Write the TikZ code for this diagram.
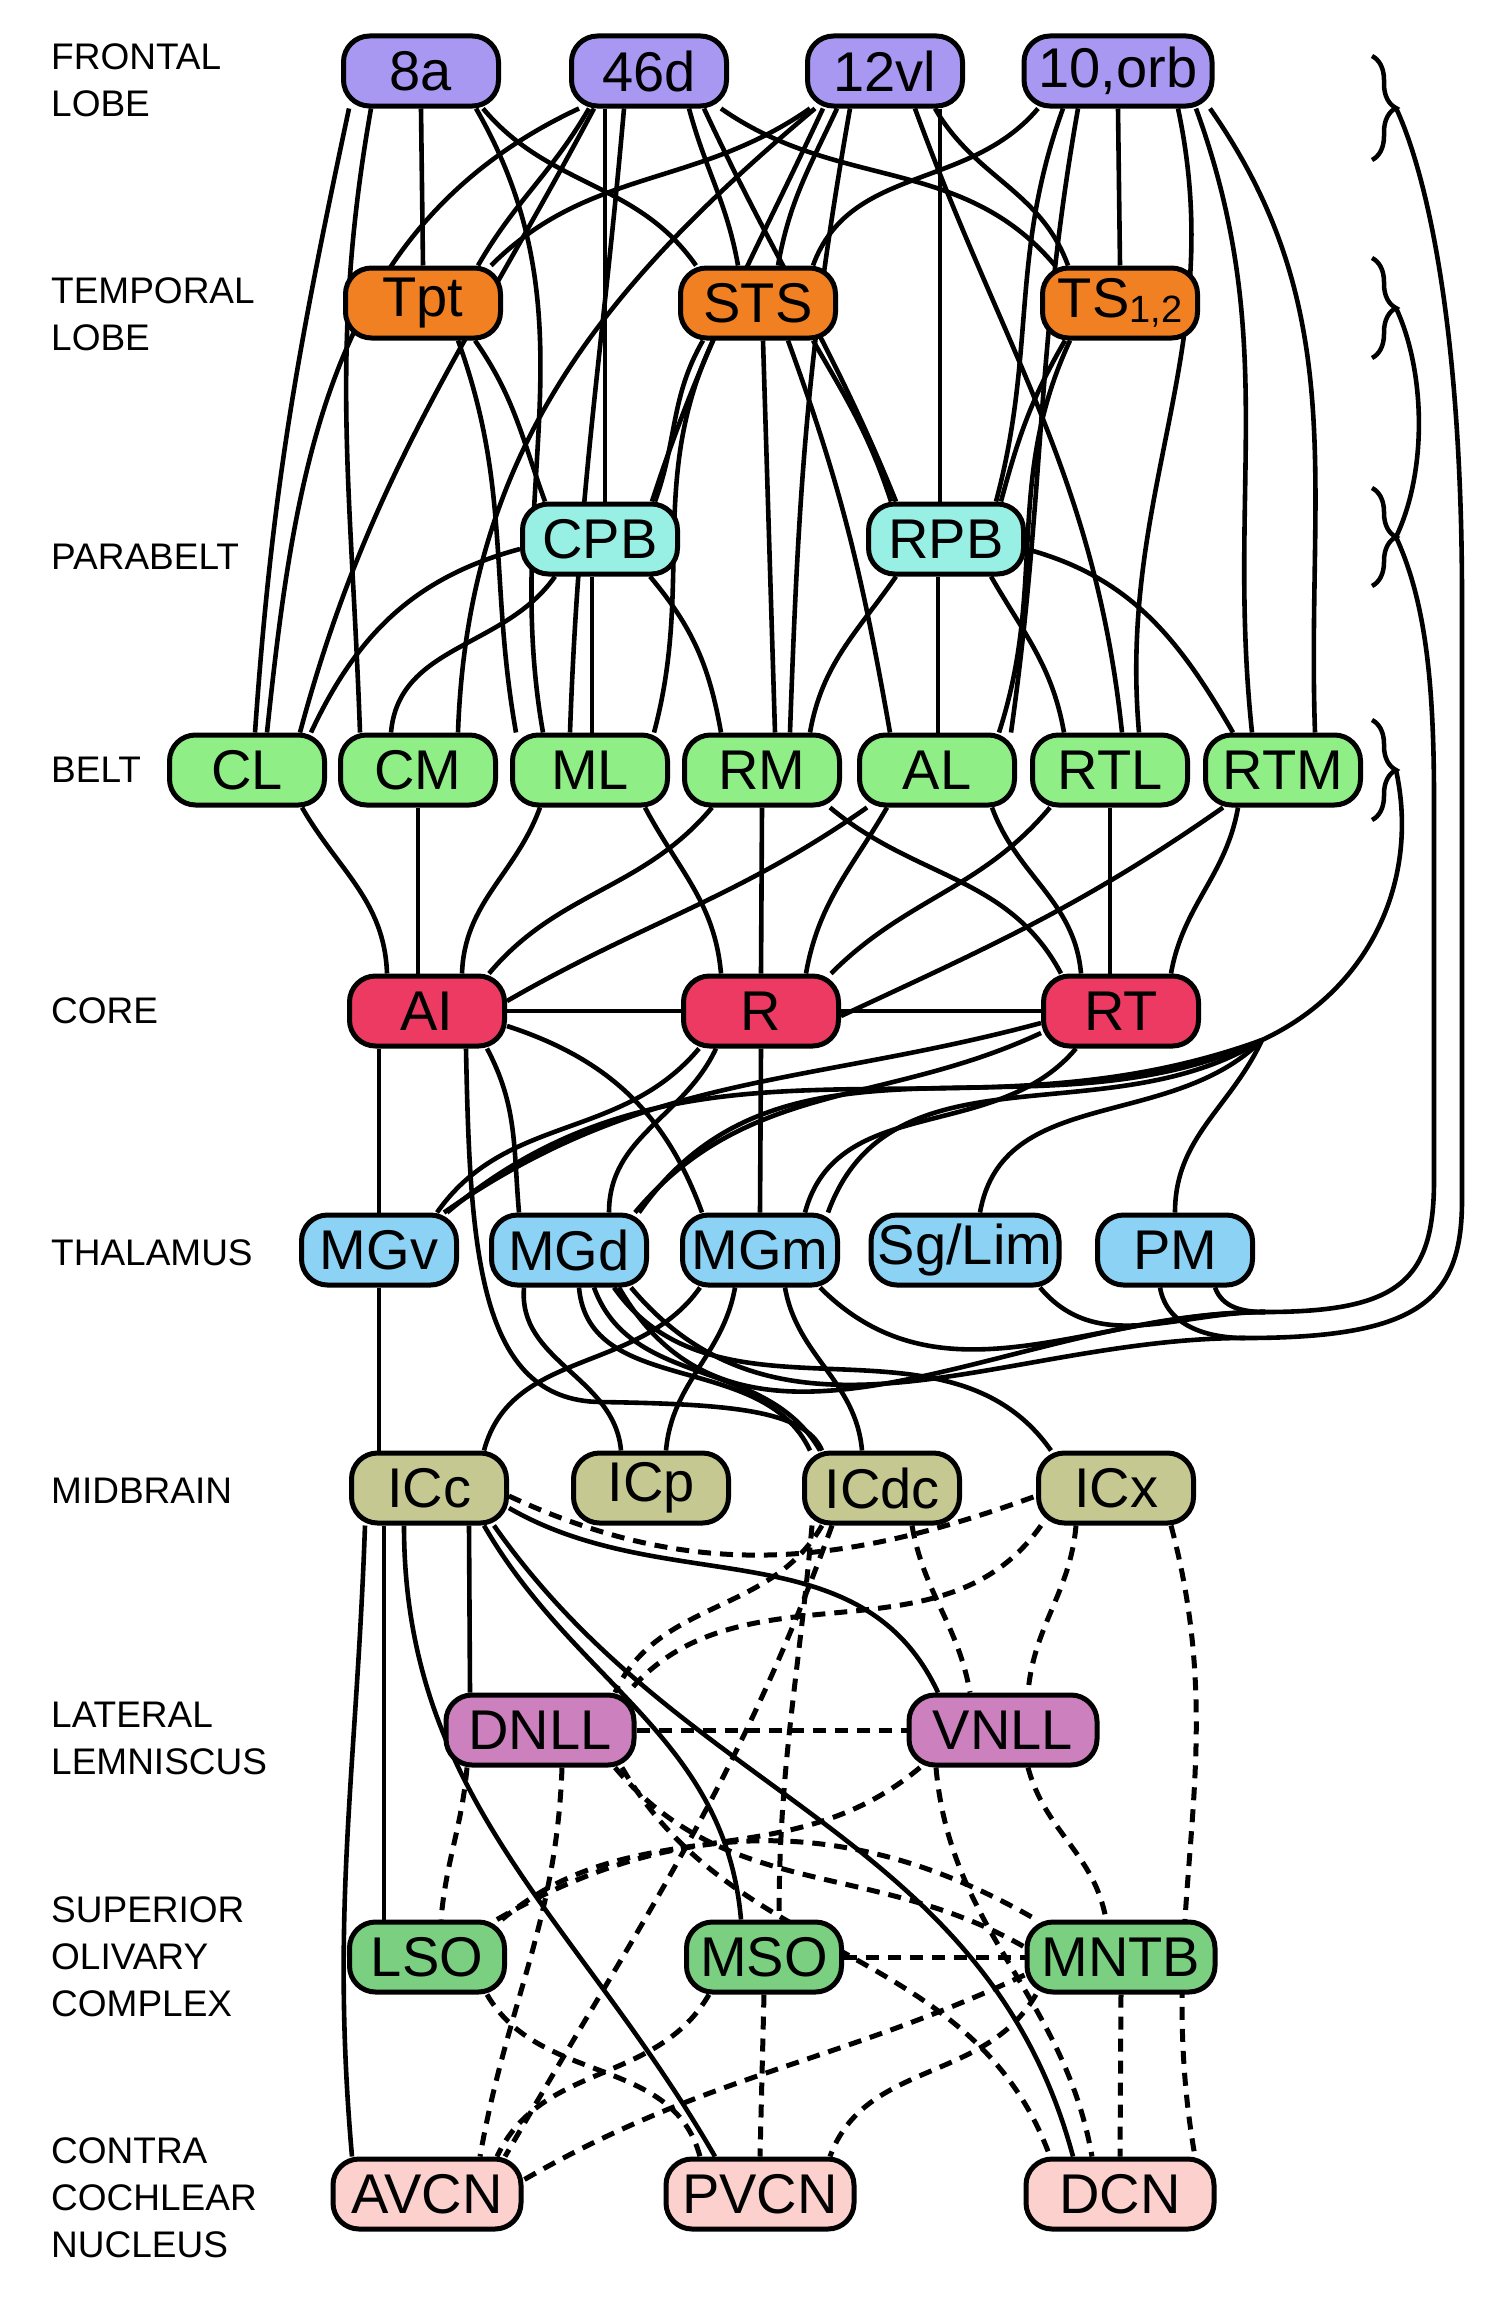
\documentclass[tikz,border=0pt]{standalone}
\usepackage{fontspec}
\setmainfont{Liberation Sans}
\usetikzlibrary{calc,decorations.pathreplacing}
\pgfdeclarelayer{bg}
\pgfsetlayers{bg,main}
\definecolor{cFr}{RGB}{168,152,242}
\definecolor{cTe}{RGB}{240,128,34}
\definecolor{cPb}{RGB}{152,240,228}
\definecolor{cBe}{RGB}{144,238,134}
\definecolor{cCo}{RGB}{236,58,98}
\definecolor{cTh}{RGB}{140,210,244}
\definecolor{cMi}{RGB}{198,200,146}
\definecolor{cLL}{RGB}{204,128,190}
\definecolor{cSO}{RGB}{122,208,128}
\definecolor{cCN}{RGB}{252,208,204}
\tikzset{
  box/.style={draw=black, line width=5pt, rounded corners=26pt, minimum width=155pt,
    minimum height=70pt, inner sep=0pt, font=\fontsize{56}{56}\selectfont},
  wide/.style={box, minimum width=188pt},
  ln/.style={line width=4.6pt},
  dl/.style={line width=5pt, dash pattern=on 13pt off 9pt},
  lab/.style={anchor=west, align=left, inner sep=0pt, font=\fontsize{37}{47}\selectfont},
  brc/.style={decorate, decoration={brace, amplitude=24pt}, line width=4.5pt},
}
\newcommand\lk[6][]{\draw[ln,#1] ([xshift=#3pt]#2.south) to[#6] ([xshift=#5pt]#4.north);}
\begin{document}
\begin{tikzpicture}[x=1pt,y=1pt]
\useasboundingbox (0,0) rectangle (1498,-2299);
% ---------- nodes ----------
\node[box,fill=cFr] (fA) at (421,-71) {8a};
\node[box,fill=cFr] (fB) at (649,-71) {46d};
\node[box,fill=cFr] (fC) at (885,-71) {12vl};
\node[wide,fill=cFr] (fD) at (1118,-71) {10,orb};
\node[box,fill=cTe] (tA) at (423,-303) {Tpt};
\node[box,fill=cTe] (tB) at (758,-303) {STS};
\node[box,fill=cTe] (tC) at (1120,-303) {TS{\fontsize{38}{38}\selectfont\raisebox{-5pt}{1,2}}};
\node[box,fill=cPb] (CPB) at (600,-539) {CPB};
\node[box,fill=cPb] (RPB) at (946,-539) {RPB};
\node[box,fill=cBe] (CL) at (247,-770) {CL};
\node[box,fill=cBe] (CM) at (418,-770) {CM};
\node[box,fill=cBe] (ML) at (590,-770) {ML};
\node[box,fill=cBe] (RM) at (762,-770) {RM};
\node[box,fill=cBe] (AL) at (937,-770) {AL};
\node[box,fill=cBe] (RTL) at (1110,-770) {RTL};
\node[box,fill=cBe] (RTM) at (1283,-770) {RTM};
\node[box,fill=cCo] (AI) at (427,-1011) {AI};
\node[box,fill=cCo] (R) at (761,-1011) {R};
\node[box,fill=cCo] (RT) at (1121,-1011) {RT};
\node[box,fill=cTh] (MGv) at (379,-1250) {MGv};
\node[box,fill=cTh] (MGd) at (569,-1250) {MGd};
\node[box,fill=cTh] (MGm) at (760,-1250) {MGm};
\node[wide,fill=cTh] (Sg) at (965,-1250) {Sg/Lim};
\node[box,fill=cTh] (PM) at (1175,-1250) {PM};
\node[box,fill=cMi] (ICc) at (429,-1488) {ICc};
\node[box,fill=cMi] (ICp) at (651,-1488) {ICp};
\node[box,fill=cMi] (ICdc) at (882,-1488) {ICdc};
\node[box,fill=cMi] (ICx) at (1116,-1488) {ICx};
\node[wide,fill=cLL] (DNLL) at (540,-1730) {DNLL};
\node[wide,fill=cLL] (VNLL) at (1003,-1730) {VNLL};
\node[box,fill=cSO] (LSO) at (427,-1957) {LSO};
\node[box,fill=cSO] (MSO) at (764,-1957) {MSO};
\node[wide,fill=cSO] (MNTB) at (1121,-1957) {MNTB};
\node[wide,fill=cCN] (AVCN) at (427,-2194) {AVCN};
\node[wide,fill=cCN] (PVCN) at (760,-2194) {PVCN};
\node[wide,fill=cCN] (DCN) at (1120,-2194) {DCN};
% ---------- level labels ----------
\node[lab] (L1) at (51,-80) {FRONTAL\\LOBE};
\node[lab] (L2) at (51,-314) {TEMPORAL\\LOBE};
\node[lab] (L3) at (51,-557) {PARABELT};
\node[lab] (L4) at (51,-770) {BELT};
\node[lab] (L5) at (51,-1011) {CORE};
\node[lab] (L6) at (51,-1253) {THALAMUS};
\node[lab] (L7) at (51,-1491) {MIDBRAIN};
\node[lab] (L8) at (51,-1738) {LATERAL\\LEMNISCUS};
\node[lab] (L9) at (51,-1957) {SUPERIOR\\OLIVARY\\COMPLEX};
\node[lab] (L10) at (51,-2198) {CONTRA\\COCHLEAR\\NUCLEUS};
% ---------- braces ----------
\draw[brc] (1372,-56) -- (1372,-160);
\draw[brc] (1372,-258) -- (1372,-358);
\draw[brc] (1372,-488) -- (1372,-586);
\draw[brc] (1372,-720) -- (1372,-820);
\coordinate (tipF) at (1396,-108);
\coordinate (tipT) at (1396,-308);
\coordinate (tipP) at (1396,-537);
\coordinate (tipB) at (1396,-770);
\coordinate (S) at (1262,-1040);
\coordinate (M1) at (1265,-1312);
\coordinate (M2) at (1245,-1338);
\begin{pgfonlayer}{bg}
\fill[white] (0,0) rectangle (1498,-2299);
% frontal - temporal
\lk{fA}{0}{tA}{0}{}
\lk{fA}{62}{tB}{-62}{out=-50,in=125}
\lk{fB}{-60}{tA}{55}{out=-120,in=60}
\lk{fB}{40}{tB}{-20}{out=-75,in=100}
\lk{fB}{72}{tC}{-65}{out=-35,in=130}
\lk{fC}{-75}{tA}{68}{out=-145,in=45}
\lk{fC}{-48}{tB}{20}{out=-115,in=80}
\lk{fC}{50}{tC}{-52}{out=-60,in=110}
\lk{fD}{-80}{tB}{55}{out=-130,in=70}
\lk{fD}{0}{tC}{0}{}
% frontal - parabelt
\lk{fB}{-44}{CPB}{5}{}
\lk{fC}{55}{RPB}{-6}{}
\lk{fC}{-62}{CPB}{52}{out=-115,in=72}
\lk{fB}{55}{RPB}{-50}{out=-65,in=112}
\lk{fD}{-55}{RPB}{50}{out=-110,in=75}
% frontal - belt
\lk{fA}{-72}{CL}{8}{out=-102,in=86}
\lk{fB}{-70}{CL}{20}{out=205,in=84}
\lk{fB}{-55}{CL}{53}{out=-118,in=75}
\lk{fA}{-50}{CM}{-58}{out=-100,in=92}
\lk{fC}{-70}{CM}{40}{out=-140,in=88}
\lk{fA}{55}{ML}{-47}{out=-60,in=100}
\lk{fB}{-25}{ML}{-20}{out=-95,in=88}
\lk{tA}{35}{ML}{-74}{out=-70,in=100}
\lk{tB}{-45}{ML}{64}{out=-115,in=75}
\lk{tB}{5}{RM}{13}{}
\lk{fC}{-35}{RM}{28}{out=-100,in=88}
\lk{tB}{30}{AL}{-47}{out=-70,in=100}
\lk{fD}{-40}{AL}{74}{out=-100,in=82}
\lk{tC}{-50}{AL}{62}{out=-115,in=72}
\lk{fC}{30}{RTL}{12}{out=-70,in=96}
\lk{fD}{60}{RTL}{29}{out=-78,in=95}
\lk{fD}{78}{RTM}{-31}{out=-70,in=96}
\lk{fD}{92}{RTM}{32}{out=-55,in=92}
% temporal - parabelt
\lk{tA}{52}{CPB}{-55}{out=-55,in=110}
\lk{tB}{-55}{CPB}{55}{out=-120,in=70}
\lk{tB}{55}{RPB}{-55}{out=-60,in=108}
\lk{tC}{-55}{RPB}{55}{out=-120,in=75}
% parabelt - belt
\draw[ln] ([yshift=-10pt]CPB.west) to[out=195,in=65] ([xshift=64pt]CL.north);
\lk{CPB}{-45}{CM}{-27}{out=-125,in=85}
\lk{CPB}{-8}{ML}{2}{}
\lk{CPB}{50}{RM}{-41}{out=-50,in=100}
\lk{RPB}{-50}{RM}{48}{out=-125,in=80}
\lk{RPB}{-8}{AL}{1}{}
\lk{RPB}{45}{RTL}{-46}{out=-60,in=100}
\draw[ln] ([yshift=-10pt]RPB.east) to[out=-15,in=120] ([xshift=-50pt]RTM.north);
% belt - core
\lk{CL}{55}{AI}{-40}{out=-60,in=92}
\lk{CM}{0}{AI}{-9}{}
\lk{ML}{-50}{AI}{35}{out=-110,in=88}
\lk{ML}{55}{R}{-40}{out=-62,in=95}
\lk{RM}{-50}{AI}{62}{out=-130,in=50}
\lk{RM}{0}{R}{0}{}
\lk{RM}{68}{RT}{-60}{out=-40,in=118}
\draw[ln] ([xshift=-70pt]AL.south) to[out=-145,in=30] ([yshift=10pt]AI.east);
\lk{AL}{-50}{R}{45}{out=-120,in=80}
\lk{AL}{55}{RT}{-40}{out=-70,in=95}
\draw[ln] ([xshift=-60pt]RTL.south) to[out=-130,in=45] ([xshift=70pt]R.north);
\lk{RTL}{0}{RT}{-11}{}
\draw[ln] ([xshift=-60pt]RTM.south) to[out=-145,in=25] ([yshift=-5pt]R.east);
\lk{RTM}{-45}{RT}{50}{out=-100,in=80}
\draw[ln] (AI.east) -- (R.west);
\draw[ln] (R.east) -- (RT.west);
% core - thalamus
\lk{AI}{-48}{MGv}{0}{}
\draw[ln] ([xshift=39pt]AI.south) .. controls (470,-1250) and (478,-1400) .. (600,-1402)
   .. controls (730,-1404) and (805,-1410) .. ([xshift=-60pt]ICdc.north);
\lk{AI}{60}{MGd}{-50}{out=-62,in=95}
\draw[ln] ([yshift=-15pt]AI.east) to[out=-18,in=110] ([xshift=-58pt]MGm.north);
\lk{R}{-62}{MGv}{58}{out=-130,in=55}
\lk{R}{-45}{MGd}{40}{out=-115,in=90}
\lk{R}{0}{MGm}{0}{}
\draw[ln] ([yshift=-12pt]RT.west) to[out=195,in=35] ([xshift=65pt]MGv.north);
\draw[ln] ([yshift=-22pt]RT.west) to[out=205,in=50] ([xshift=66pt]MGd.north);
\lk{RT}{-45}{MGm}{45}{out=-130,in=75}
% braces to thalamus
\draw[ln] (tipF) .. controls (1425,-170) and (1462,-320) .. (1462,-600) -- (1462,-1200)
   .. controls (1462,-1300) and (1420,-1338) .. (M2);
\draw[ln] (tipT) .. controls (1425,-370) and (1428,-470) .. (tipP);
\draw[ln] (tipP) .. controls (1425,-600) and (1434,-680) .. (1434,-800) -- (1434,-1180)
   .. controls (1434,-1280) and (1400,-1312) .. (M1);
\draw[ln] (tipB) .. controls (1420,-880) and (1370,-990) .. (S);
\draw[ln] (S) to[out=200,in=40] ([xshift=68pt]MGv.north);
\draw[ln] (S) to[out=205,in=55] ([xshift=70pt]MGd.north);
\draw[ln] (S) to[out=212,in=70] ([xshift=68pt]MGm.north);
\draw[ln] (S) to[out=225,in=80] ([xshift=15pt]Sg.north);
\draw[ln] (S) to[out=245,in=90] (PM.north);
\draw[ln] ([xshift=50pt]MGd.south) to[out=-60,in=180] (M1);
\draw[ln] ([xshift=62pt]MGd.south) to[out=-50,in=180] (M2);
\draw[ln] ([xshift=60pt]MGm.south) to[out=-45,in=180] (M1);
\draw[ln] ([xshift=75pt]Sg.south) to[out=-50,in=180] (M1);
\draw[ln] ([xshift=-15pt]PM.south) to[out=-80,in=180] (M2);
\draw[ln] ([xshift=40pt]PM.south) to[out=-70,in=180] (M1);
% thalamus - midbrain
\lk{MGv}{0}{ICc}{-50}{}
\lk{MGd}{-45}{ICp}{-30}{out=-95,in=95}
\lk{MGd}{10}{ICdc}{-72}{out=-85,in=115}
\lk{MGd}{25}{ICdc}{-62}{out=-70,in=120}
\lk{MGd}{45}{ICx}{-65}{out=-55,in=125}
\lk{MGm}{-60}{ICc}{55}{out=-125,in=75}
\lk{MGm}{-25}{ICp}{15}{out=-100,in=85}
\lk{MGm}{25}{ICdc}{-20}{out=-80,in=95}
% midbrain solid
\lk{ICc}{-64}{AVCN}{-75}{out=-92,in=95}
\lk{ICc}{-45}{LSO}{-43}{}
\lk{ICc}{-25}{PVCN}{-45}{out=-90,in=120}
\lk{ICc}{40}{DNLL}{-70}{}
\lk{ICc}{55}{MSO}{-23}{out=-60,in=95}
\lk{ICc}{65}{DCN}{-47}{out=-55,in=105}
\draw[ln] ([yshift=-20pt]ICc.east) to[out=-30,in=115] ([xshift=-65pt]VNLL.north);
% dashed
\draw[ln,dl] ([yshift=-8pt]ICc.east) to[out=-25,in=200] ([yshift=-8pt]ICx.west);
\lk[dl]{ICdc}{-60}{DNLL}{75}{out=-120,in=65}
\lk[dl]{ICdc}{-70}{MSO}{15}{out=-95,in=90}
\lk[dl]{ICdc}{-50}{AVCN}{78}{out=-110,in=60}
\lk[dl]{ICdc}{30}{VNLL}{-33}{out=-80,in=100}
\lk[dl]{ICx}{-75}{DNLL}{88}{out=-125,in=50}
\lk[dl]{ICx}{-40}{VNLL}{25}{out=-95,in=85}
\lk[dl]{ICx}{55}{DCN}{75}{out=-75,in=100}
\draw[ln,dl] (DNLL.east) -- (VNLL.west);
\lk[dl]{DNLL}{-73}{LSO}{14}{out=-95,in=85}
\lk[dl]{DNLL}{22}{AVCN}{53}{out=-92,in=80}
\draw[ln,dl] ([xshift=75pt]DNLL.south) to[out=-50,in=150] ([yshift=10pt]MNTB.west);
\lk[dl]{DNLL}{82}{DCN}{-70}{out=-60,in=110}
\lk[dl]{VNLL}{-83}{LSO}{75}{out=-140,in=40}
\lk[dl]{VNLL}{-67}{DCN}{-28}{out=-85,in=100}
\lk[dl]{VNLL}{25}{MNTB}{-15}{out=-75,in=100}
\draw[ln,dl] ([xshift=70pt]LSO.north) to[out=30,in=150] ([xshift=-85pt]MNTB.north);
\draw[ln,dl] (MSO.east) -- (MNTB.west);
\lk[dl]{LSO}{60}{PVCN}{-60}{out=-60,in=105}
\lk[dl]{MSO}{-55}{AVCN}{70}{out=-120,in=65}
\draw[ln,dl] ([yshift=-18pt]MNTB.west) to[out=205,in=30] ([yshift=14pt]AVCN.east);
\lk[dl]{MSO}{0}{PVCN}{0}{}
\lk[dl]{MNTB}{-85}{PVCN}{70}{out=-120,in=70}
\lk[dl]{MNTB}{0}{DCN}{0}{}
\end{pgfonlayer}
\end{tikzpicture}
\end{document}
